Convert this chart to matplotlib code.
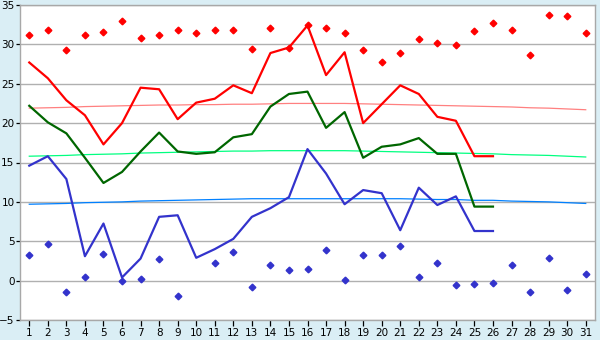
import matplotlib
matplotlib.use("Agg")
import matplotlib.pyplot as plt

nan = float("nan")

days = list(range(1, 32))
days_obs = list(range(1, 27))

t_max = [27.7, 25.7, 22.9, 21.0, 17.3, 20.0, 24.5, 24.3, 20.5, 22.6, 23.1, 24.8, 23.8,
         28.9, 29.6, 32.4, 26.1, 29.0, 20.0, 22.4, 24.8, 23.7, 20.8, 20.3, 15.8, 15.8]
t_mean = [22.2, 20.1, 18.7, 15.6, 12.4, 13.8, 16.4, 18.8, 16.4, 16.1, 16.3, 18.2, 18.6,
          22.1, 23.7, 24.0, 19.4, 21.4, 15.6, 17.0, 17.3, 18.1, 16.1, 16.1, 9.4, 9.4]
t_min = [14.6, 15.8, 12.9, 3.1, 7.25, 0.4, 2.8, 8.1, 8.3, 2.9, 4.0, 5.3, 8.1,
         9.2, 10.6, 16.7, 13.6, 9.7, 11.5, 11.1, 6.4, 11.8, 9.6, 10.7, 6.3, 6.3]

rec_max = [31.2, 31.8, 29.3, 31.2, 31.6, 32.95, 30.8, 31.2, 31.8, 31.5, 31.8, 31.8, 29.4,
           32.1, 29.6, 32.4, 32.1, 31.4, 29.3, 27.7, 28.9, 30.7, 30.15, 29.9, 31.7, 32.7,
           31.8, 28.6, 33.7, 33.6, 31.4]
rec_min = [3.2, 4.6, -1.5, 0.5, 3.4, 0.0, 0.15, 2.8, -2.0, nan, 2.3, 3.6, -0.76,
           2.0, 1.4, 1.5, 3.9, 0.1, 3.3, 3.2, 4.45, 0.5, 2.2, -0.6, -0.4, -0.25,
           2.0, -1.4, 2.9, -1.15, 0.9]

norm_max = [21.9, 21.95, 22.0, 22.1, 22.15, 22.2, 22.25, 22.3, 22.3, 22.35, 22.35, 22.4, 22.4,
            22.45, 22.5, 22.5, 22.5, 22.5, 22.45, 22.4, 22.35, 22.3, 22.25, 22.2, 22.15, 22.1,
            22.05, 21.95, 21.9, 21.8, 21.7]
norm_mean = [15.8, 15.85, 15.9, 16.0, 16.05, 16.1, 16.2, 16.25, 16.3, 16.35, 16.4, 16.45, 16.45,
             16.5, 16.5, 16.5, 16.5, 16.5, 16.45, 16.4, 16.35, 16.3, 16.25, 16.2, 16.15, 16.1,
             16.0, 15.95, 15.9, 15.8, 15.7]
norm_min = [9.7, 9.75, 9.8, 9.9, 9.95, 10.0, 10.1, 10.15, 10.2, 10.25, 10.3, 10.35, 10.4,
            10.4, 10.4, 10.4, 10.4, 10.4, 10.4, 10.4, 10.4, 10.35, 10.3, 10.3, 10.2, 10.2,
            10.1, 10.05, 10.0, 9.9, 9.8]

yticks = [-5, 0, 5, 10, 15, 20, 25, 30, 35]

W, H = 600, 340
fig = plt.figure(figsize=(W / 100, H / 100), dpi=100)
fig.patch.set_facecolor("#DAEEF5")
ax = fig.add_axes([20 / W, 1 - 320 / H, (595 - 20) / W, (320 - 5) / H])
ax.set_facecolor("white")

ax.set_xlim(0.5, 31.5)
ax.set_ylim(-5, 35)
ax.set_yticks(yticks)
ax.set_xticks(days)
ax.grid(axis="y", color="#B0B0B0", linewidth=1.0)
ax.set_axisbelow(True)

for s in ax.spines.values():
    s.set_color("#A8A8A8")
    s.set_linewidth(1.0)

ax.tick_params(axis="both", labelsize=7.5, colors="black", width=0.9, length=4, pad=2)
ax.tick_params(axis="y", length=3, pad=1)

ax.plot(days, norm_max, color="#FF8080", lw=0.9, zorder=2)
ax.plot(days, norm_mean, color="#00FF80", lw=0.9, zorder=2)
ax.plot(days, norm_min, color="#0080FF", lw=0.9, zorder=2)

ax.plot(days_obs, t_max, color="#FF0000", lw=1.6, zorder=3)
ax.plot(days_obs, t_mean, color="#006600", lw=1.6, zorder=3)
ax.plot(days_obs, t_min, color="#3333CC", lw=1.6, zorder=3)

ax.plot(days, rec_max, linestyle="none", marker="D", ms=3.4, color="#FF0000", zorder=4)
ax.plot(days, rec_min, linestyle="none", marker="D", ms=3.4, color="#3333CC", zorder=4)

fig.savefig("out.png", dpi=100, facecolor=fig.get_facecolor())
